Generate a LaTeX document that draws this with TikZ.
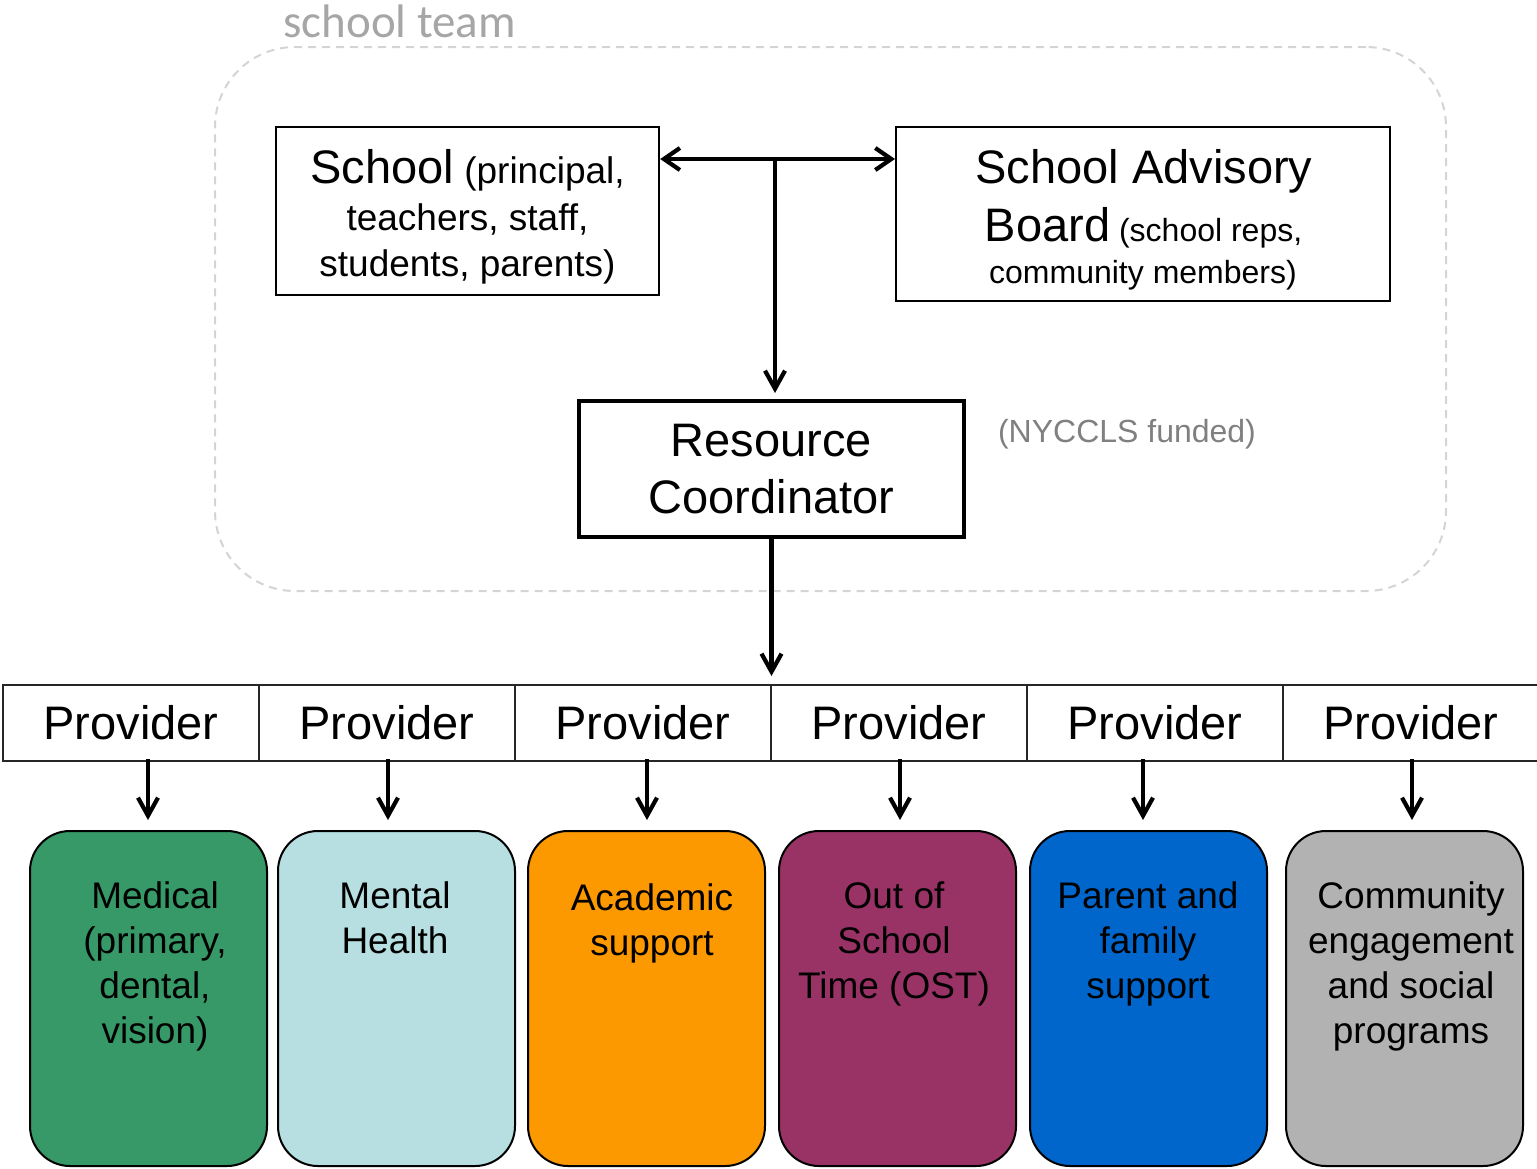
\documentclass[tikz,border=0pt]{standalone}
\usepackage{fontspec}
\setmainfont{Liberation Sans}
\newfontfamily\calibfont{Carlito}
\usetikzlibrary{arrows.meta,calc}
\definecolor{teamline}{HTML}{D4D4D4}
\definecolor{teamtext}{HTML}{A6A6A6}
\definecolor{fundgray}{HTML}{808080}
\definecolor{cgreen}{RGB}{54,153,103}
\definecolor{clblue}{HTML}{B7DFE2}
\definecolor{corange}{HTML}{FC9800}
\definecolor{cpurple}{HTML}{993366}
\definecolor{cblue}{HTML}{0066CC}
\definecolor{cgray}{HTML}{B2B2B2}
\newcommand\fbig{\fontsize{23.5}{28.5}\selectfont}
\newcommand\fmid{\fontsize{18.5}{22.5}\selectfont}
\newcommand\fsmall{\fontsize{16}{20}\selectfont}
\begin{document}
\begin{tikzpicture}[x=0.5pt,y=-0.5pt,
  arr/.style={line width=2.1pt,-{Straight Barb[length=9pt,width=10pt]}},
  dblarr/.style={line width=2.1pt,{Straight Barb[length=8pt,width=11pt]}-{Straight Barb[length=8pt,width=11pt]}},
  box/.style={draw=black,fill=white,inner sep=0pt},
  txt/.style={inner sep=0pt},
  prov/.style={draw=black!85,line width=1pt,minimum width=128pt,minimum height=38pt,inner sep=0pt,font=\fbig},
  cbox/.style={draw=black,line width=1pt,rounded corners=20pt,minimum width=118.5pt,minimum height=167.5pt,inner sep=0pt},
  ctxt/.style={inner sep=0pt,align=center,anchor=north,font=\fmid}]
\useasboundingbox (0,0) rectangle (1537,1168);
% school team container
\node[draw=teamline,line width=1pt,dash pattern=on 4pt off 3pt,rounded corners=40pt,
  minimum width=615.5pt,minimum height=272pt,inner sep=0pt] (team) at (830.5,319) {};
\node[txt,anchor=base west,text=teamtext,font={\calibfont\fontsize{23.5}{28}\selectfont}] (teamlabel) at (283,37) {school team};
% School box
\node[box,line width=1.2pt,minimum width=191.5pt,minimum height=84pt] (school) at (467.5,211) {};
\node[txt,anchor=base] (schoolA) at (467.5,183) {{\fbig School}\fmid{} (principal,};
\node[txt,anchor=base,font=\fmid] (schoolB) at (467.5,230) {teachers, staff,};
\node[txt,anchor=base,font=\fmid] (schoolC) at (467.5,276) {students, parents)};
% Advisory board
\node[box,line width=1pt,minimum width=247pt,minimum height=87pt] (board) at (1143,214) {};
\node[txt,anchor=base,font=\fbig] (boardA) at (1144,183) {School Advisory};
\node[txt,anchor=base] (boardB) at (1143.5,241) {{\fbig Board}\fsmall{} (school reps,};
\node[txt,anchor=base,font=\fsmall] (boardC) at (1143,283) {community members)};
% Resource coordinator
\node[box,line width=2pt,minimum width=192.5pt,minimum height=68pt,align=center,font=\fbig] (rc) at (771.5,469) {Resource\\Coordinator};
\node[txt,anchor=base,text=fundgray,font=\fsmall] (fund) at (1127,442) {(NYCCLS funded)};
% arrows at top
\coordinate (j) at (775,159);
\draw[dblarr] (school.east |- j) -- (board.west |- j);
\draw[arr,shorten >=3pt] (j) -- (j |- rc.north);
% providers
\foreach \i in {1,...,6} {
  \node[prov] (p\i) at ({131+256*(\i-1)},723) {Provider};
}
\draw[arr,shorten >=4pt] (rc.south) -- (rc.south |- p4.north);
% colored boxes
\node[cbox,fill=cgreen] (c1) at (148.5,998.5) {};
\node[cbox,fill=clblue] (c2) at (396.5,998.5) {};
\node[cbox,fill=corange] (c3) at (646.5,998.5) {};
\node[cbox,fill=cpurple] (c4) at (897.5,998.5) {};
\node[cbox,fill=cblue] (c5) at (1148.5,998.5) {};
\node[cbox,fill=cgray] (c6) at (1404.5,998.5) {};
\node[ctxt] (t1) at (155,881.5) {Medical\\(primary,\\dental,\\vision)};
\node[ctxt] (t2) at (395,881.5) {Mental\\Health};
\node[ctxt] (t3) at (652,883.5) {Academic\\support};
\node[ctxt] (t4) at (894,881) {Out of\\School\\Time (OST)};
\node[ctxt] (t5) at (1148,881.5) {Parent and\\family\\support};
\node[ctxt] (t6) at (1411,881) {Community\\engagement\\and social\\programs};
% provider arrows
\foreach \i/\ax in {1/148,2/388,3/647,4/900,5/1143,6/1412} {
  \coordinate (a\i) at (\ax,0);
  \draw[arr,shorten >=5pt] ([yshift=1.5pt]p\i.south -| a\i) -- (c\i.north -| a\i);
}
\end{tikzpicture}
\end{document}
